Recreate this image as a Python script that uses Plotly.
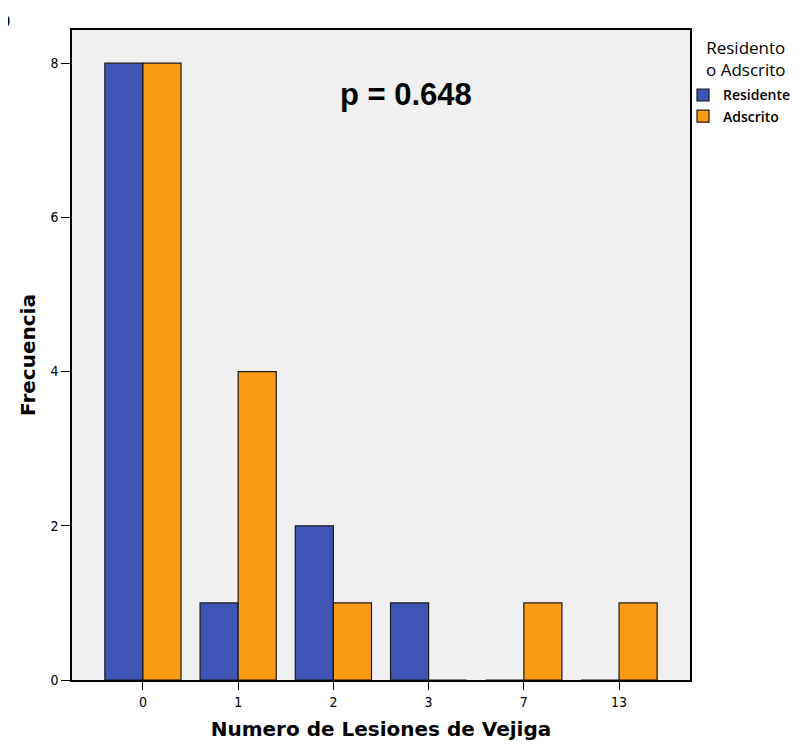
import plotly.graph_objects as go

categories = ["0", "1", "2", "3", "7", "13"]
residente = [8, 1, 2, 1, 0, 0]
adscrito = [8, 4, 1, 0, 1, 1]
y_ticks = [0, 2, 4, 6, 8]

BLUE = "#3E55B5"
ORANGE = "#FB9A14"

fig = go.Figure()
fig.add_trace(go.Bar(x=categories, y=residente, name="Residente",
                     marker=dict(color=BLUE, line=dict(color="#1a1a1a", width=1.2))))
fig.add_trace(go.Bar(x=categories, y=adscrito, name="Adscrito",
                     marker=dict(color=ORANGE, line=dict(color="#1a1a1a", width=1.2))))

fig.update_layout(
    width=791, height=742,
    margin=dict(l=64, r=109, t=22, b=70, autoexpand=False),
    paper_bgcolor="white",
    plot_bgcolor="#F0F0F0",
    barmode="group",
    bargap=0.2,
    bargroupgap=0,
    font=dict(family="DejaVu Sans", color="black", size=13),
    legend=dict(
        x=0.9887, y=0.924, xanchor="left", yanchor="top",
        font=dict(size=14, family="Open Sans", weight=600),
        bgcolor="rgba(0,0,0,0)",
        itemwidth=30,
        tracegroupgap=0,
    ),
    annotations=[
        dict(text="Residento<br>o Adscrito", x=1.0906, y=0.9554, xref="paper", yref="paper",
             xanchor="center", yanchor="middle", align="center", showarrow=False,
             font=dict(family="Open Sans", size=17, color="black")),
        dict(text="<b>p = 0.648</b>", x=0.540, y=0.9, xref="paper", yref="paper",
             xanchor="center", yanchor="middle", showarrow=False,
             font=dict(family="Liberation Sans", size=31, color="black")),
        dict(text="<b>b</b>", x=(12 - 72) / 618, y=1.0154, xref="paper", yref="paper",
             xanchor="right", yanchor="middle", showarrow=False,
             font=dict(family="Liberation Sans", size=22, color="black")),
    ],
)
fig.update_xaxes(
    type="category", range=[-0.745, 5.745],
    showline=True, linecolor="black", linewidth=1.5, mirror=True,
    ticks="outside", ticklen=8, tickcolor="black",
    showgrid=False, automargin=False,
    tickfont=dict(size=14, family="DejaVu Sans Condensed"),
    title=dict(text="<b>Numero de Lesiones de Vejiga</b>",
               font=dict(size=20, family="DejaVu Sans"), standoff=13),
)
fig.update_yaxes(
    range=[0, 8.43], tickvals=y_ticks,
    showline=True, linecolor="black", linewidth=1.5, mirror=True,
    ticks="outside", ticklen=9, tickcolor="black",
    showgrid=False, zeroline=False, automargin=False,
    tickfont=dict(size=14, family="DejaVu Sans Condensed"),
    title=dict(text="<b>Frecuencia</b>", font=dict(size=20, family="DejaVu Sans"), standoff=9),
)

fig.write_html("out.html")
